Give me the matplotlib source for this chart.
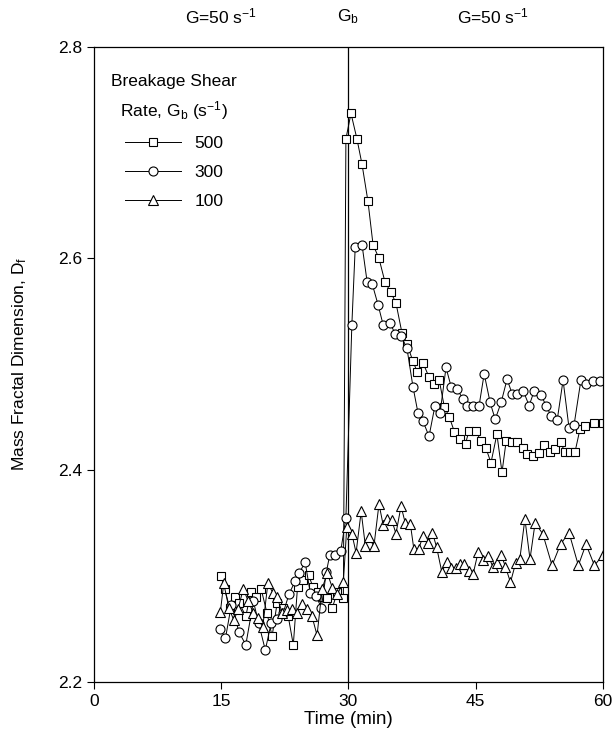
import matplotlib
matplotlib.use("Agg")
import matplotlib.pyplot as plt

plt.rcParams["font.family"] = ["Liberation Sans", "DejaVu Sans"]
plt.rcParams["mathtext.fontset"] = "custom"
plt.rcParams["mathtext.rm"] = "Liberation Sans"
plt.rcParams["mathtext.it"] = "Liberation Sans"
plt.rcParams["mathtext.default"] = "regular"

# Gb = 500 s^-1 (squares)
t_500 = [15.0, 15.4, 16.0, 16.6, 17.1, 17.9, 18.5, 19.1, 19.7, 20.4, 21.0, 21.6,
         22.3, 22.9, 23.5, 24.0, 24.6, 25.3, 25.8, 26.4, 27.0, 27.5, 28.1, 28.7,
         29.4, 29.7, 30.3, 31.0, 31.6, 32.3, 32.9, 33.6, 34.3, 35.0, 35.6, 36.3,
         36.9, 37.6, 38.1, 38.8, 39.5, 40.1, 40.7, 41.3, 41.9, 42.5, 43.2, 43.8,
         44.2, 45.0, 45.6, 46.2, 46.8, 47.5, 48.1, 48.6, 49.3, 49.9, 50.6, 51.1,
         51.8, 52.5, 53.1, 53.7, 54.3, 55.0, 55.5, 56.1, 56.7, 57.3, 57.9, 59.0,
         60.0]
d_500 = [2.300, 2.288, 2.270, 2.280, 2.275, 2.262, 2.285, 2.280, 2.288, 2.265, 2.243, 2.275,
         2.270, 2.262, 2.235, 2.290, 2.296, 2.301, 2.290, 2.285, 2.280, 2.279, 2.270, 2.285,
         2.279, 2.713, 2.737, 2.713, 2.689, 2.654, 2.613, 2.600, 2.578, 2.568, 2.558, 2.530,
         2.519, 2.503, 2.493, 2.501, 2.488, 2.481, 2.485, 2.460, 2.450, 2.436, 2.429, 2.425,
         2.437, 2.437, 2.428, 2.421, 2.407, 2.434, 2.398, 2.428, 2.427, 2.427, 2.421, 2.415,
         2.413, 2.416, 2.424, 2.417, 2.420, 2.427, 2.417, 2.417, 2.417, 2.439, 2.442, 2.445,
         2.445]

# Gb = 300 s^-1 (circles)
t_300 = [14.9, 15.5, 16.2, 17.1, 17.9, 18.8, 19.4, 20.2, 20.9, 21.6, 22.3, 23.0,
         23.7, 24.2, 24.9, 25.5, 26.2, 26.8, 27.4, 27.8, 28.4, 29.1, 29.7, 30.4,
         30.8, 31.6, 32.2, 32.8, 33.5, 34.1, 34.9, 35.5, 36.2, 36.9, 37.6, 38.2,
         38.8, 39.5, 40.2, 40.8, 41.5, 42.1, 42.8, 43.5, 44.0, 44.7, 45.4, 46.0,
         46.7, 47.3, 48.0, 48.7, 49.3, 49.9, 50.6, 51.3, 51.9, 52.7, 53.3, 53.9,
         54.6, 55.3, 56.0, 56.6, 57.4, 58.0, 58.8, 59.6]
d_300 = [2.250, 2.241, 2.273, 2.247, 2.235, 2.276, 2.256, 2.230, 2.256, 2.259, 2.265, 2.283,
         2.295, 2.303, 2.313, 2.284, 2.281, 2.270, 2.304, 2.320, 2.320, 2.324, 2.355, 2.537,
         2.611, 2.613, 2.578, 2.576, 2.556, 2.537, 2.539, 2.529, 2.527, 2.515, 2.479, 2.454,
         2.446, 2.432, 2.461, 2.454, 2.497, 2.479, 2.477, 2.467, 2.461, 2.461, 2.461, 2.491,
         2.464, 2.448, 2.464, 2.486, 2.472, 2.472, 2.475, 2.461, 2.475, 2.471, 2.461, 2.451,
         2.447, 2.485, 2.440, 2.443, 2.485, 2.481, 2.484, 2.484]

# Gb = 100 s^-1 (triangles)
t_100 = [14.9, 15.3, 15.9, 16.5, 17.0, 17.6, 18.2, 18.8, 19.3, 19.9, 20.5, 21.1,
         21.6, 22.2, 22.8, 23.3, 23.9, 24.5, 25.1, 25.7, 26.3, 26.9, 27.5, 28.1,
         28.7, 29.4, 29.8, 30.4, 30.9, 31.5, 32.0, 32.4, 33.0, 33.6, 34.1, 34.6,
         35.1, 35.6, 36.2, 36.7, 37.3, 37.7, 38.3, 38.8, 39.4, 39.9, 40.4, 41.0,
         41.6, 42.1, 42.7, 43.2, 43.6, 44.2, 44.7, 45.3, 45.9, 46.5, 47.0, 47.5,
         48.0, 48.5, 49.1, 49.7, 50.2, 50.8, 51.4, 52.0, 52.9, 54.0, 55.0, 56.0,
         57.1, 58.0, 59.0, 60.0]
d_100 = [2.266, 2.293, 2.270, 2.258, 2.269, 2.288, 2.276, 2.265, 2.260, 2.252, 2.293, 2.284,
         2.280, 2.265, 2.268, 2.269, 2.265, 2.274, 2.269, 2.262, 2.244, 2.288, 2.303, 2.289,
         2.283, 2.294, 2.346, 2.340, 2.322, 2.361, 2.328, 2.337, 2.328, 2.368, 2.348, 2.354,
         2.353, 2.340, 2.366, 2.350, 2.349, 2.326, 2.326, 2.338, 2.331, 2.341, 2.327, 2.304,
         2.313, 2.308, 2.308, 2.311, 2.311, 2.305, 2.302, 2.323, 2.315, 2.319, 2.309, 2.312,
         2.320, 2.309, 2.294, 2.312, 2.316, 2.354, 2.316, 2.350, 2.340, 2.310, 2.330, 2.341,
         2.310, 2.330, 2.310, 2.320]

regimes = [(15, "G=50 s$^{-1}$"), (30, "G$_b$"), (47, "G=50 s$^{-1}$")]
x_ticks = [0, 15, 30, 45, 60]
y_ticks = [2.2, 2.4, 2.6, 2.8]

fig = plt.figure(figsize=(6.14, 7.42), dpi=100)
ax = fig.add_axes([0.153, 0.081, 0.829, 0.856])

style = dict(color="black", lw=0.7, mfc="white", mec="black", mew=0.8)
ax.plot(t_500, d_500, marker="s", ms=5.5, label="500", **style)
ax.plot(t_300, d_300, marker="o", ms=6.5, label="300", **style)
ax.plot(t_100, d_100, marker="^", ms=6.5, label="100", **style)

ax.axvline(30, color="black", lw=0.9, zorder=1)

ax.set_xlim(0, 60)
ax.set_ylim(2.2, 2.8)
ax.set_xticks(x_ticks)
ax.set_yticks(y_ticks)
ax.set_yticklabels([f"{v:.1f}" for v in y_ticks])
ax.tick_params(direction="out", length=5, width=0.8, labelsize=12.5)
for sp in ax.spines.values():
    sp.set_linewidth(0.9)

ax.set_xlabel("Time (min)", fontsize=13.5, labelpad=2)
ax.set_ylabel("Mass Fractal Dimension, D$_f$", fontsize=12.5, labelpad=21)

for x, txt in regimes:
    ax.text(x, 1.047, txt, transform=ax.get_xaxis_transform(),
            ha="center", va="center", fontsize=12.5)

leg = ax.legend(loc="upper left", bbox_to_anchor=(0.0, 0.985), frameon=False,
                title="Breakage Shear\nRate, G$_b$ (s$^{-1}$)", fontsize=12.5,
                title_fontsize=12.5, handlelength=3.2, labelspacing=0.8,
                handletextpad=0.8, borderaxespad=0.6)
leg.get_title().set_multialignment("center")
leg.get_title().set_linespacing(1.6)

fig.savefig("out.png", dpi=100)
